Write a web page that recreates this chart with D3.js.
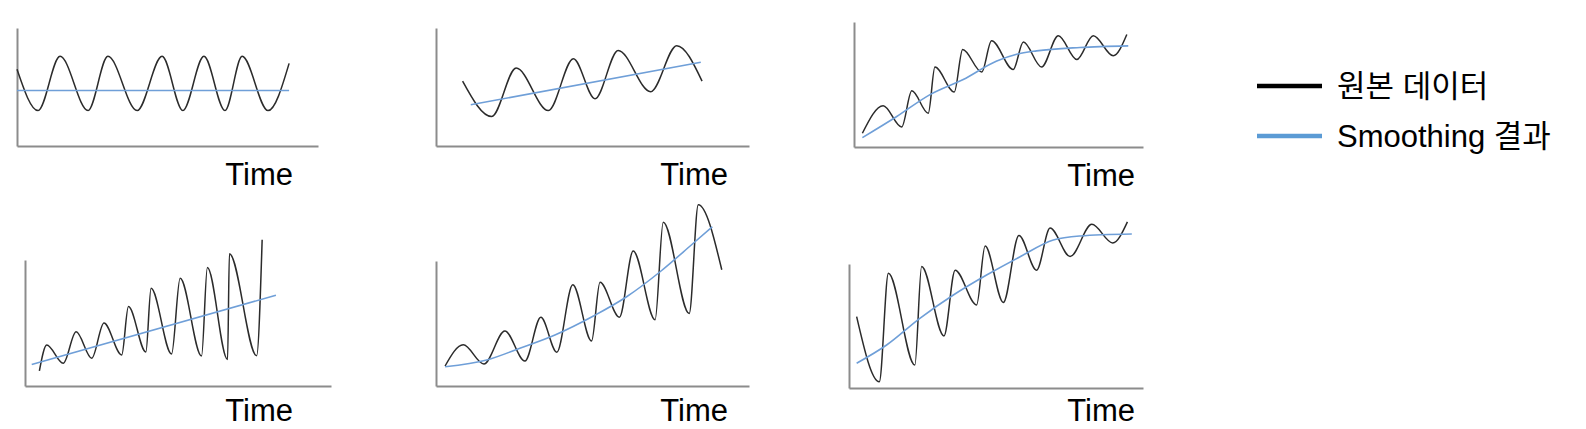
<!DOCTYPE html>
<html>
<head>
<meta charset="utf-8">
<script src="https://cdn.jsdelivr.net/npm/d3@7"></script>
<style>
  body { margin: 0; background: #fff; }
  svg { display: block; }
  text { font-family: "Liberation Sans", Arial, "Noto Sans CJK KR", sans-serif; }
</style>
</head>
<body>
<script>
// time runs 0..100 and value 0..100 inside each panel frame

const rawTime1 = [0, 7, 14.3, 23.6, 30.2, 39.9, 48.2, 55.1, 62.1, 69.1, 74.8, 83.4, 90.4];
const rawValue1 = [65, 30, 76, 30, 76, 30, 76, 30, 76, 30, 76, 30, 70];
const smoothTime1 = [0, 90.4];
const smoothValue1 = [47, 47];

const rawTime2 = [8.5, 17.8, 25.6, 35.9, 43.9, 50.8, 58.2, 68.6, 76.9, 85.0];
const rawValue2 = [55, 25, 66, 30, 74, 40, 81, 46, 85, 55];
const smoothTime2 = [11.1, 84.6];
const smoothValue2 = [35, 71];

const rawTime3 = [2.9, 10.1, 16.5, 20.0, 25.7, 28.0, 34.7, 37.6, 44.2, 47.6, 55.1, 58.6, 64.9, 70.7, 77.1, 82.8, 89.7, 94.4];
const rawValue3 = [11, 33, 16, 45, 27, 64, 44, 78, 60, 85, 62, 84, 64, 89, 70, 89, 73, 90];
const smoothTime3 = [2.9, 14.8, 26.3, 37.8, 49.4, 56.3, 63.2, 78.2, 94.9];
const smoothValue3 = [7.5, 24.4, 41.9, 54, 68.8, 74.2, 76.9, 79.6, 80.9];

const rawTime4 = [4.7, 7.1, 12.5, 16.7, 21.8, 25.8, 31.6, 33.8, 39.5, 41.2, 47.9, 50.7, 57.7, 59.6, 66.2, 66.8, 75.7, 77.5];
const rawValue4 = [12, 32.5, 18, 43, 22, 50, 24.6, 63, 27, 77.5, 25.4, 85.5, 23.8, 94, 21, 105, 24, 116];
const smoothTime4 = [2.2, 82];
const smoothValue4 = [17, 72];

const rawTime5 = [2.9, 8.7, 15.3, 22.0, 28.4, 33.5, 38.6, 43.7, 49.7, 52.4, 58.6, 63.0, 70.0, 72.6, 80.9, 83.8, 91.3];
const rawValue5 = [16, 33, 17.6, 44, 20, 55, 27, 81, 36, 83, 55, 108, 53, 131, 58, 145, 93];
const smoothTime5 = [2.9, 16.2, 26.8, 38, 50.3, 60.9, 71.6, 82.2, 88.3];
const smoothValue5 = [15.4, 20.8, 30.2, 40.8, 56, 71.4, 91.4, 114.2, 127.4];

const rawTime6 = [2.6, 10.3, 13.4, 22.4, 24.7, 32.3, 36.1, 43.4, 46.3, 52.5, 57.8, 63.8, 68.4, 75.2, 82.6, 89.7, 94.7];
const rawValue6 = [57.5, 5, 92.5, 18.5, 98, 42, 95, 67, 114.5, 69, 123, 95, 129, 106, 132, 117, 134];
const smoothTime6 = [2.6, 12.8, 24.1, 35.5, 46.8, 58.2, 69.5, 78.6, 96.2];
const smoothValue6 = [20, 34.7, 56.2, 75, 91.1, 105.9, 119.4, 122.6, 124.2];

const axisLabel = 'Time';
const legendLabels = ['원본 데이터', 'Smoothing 결과'];

const rawColor = '#2b2b2b';
const smoothColor = '#6f9fd8';
const legendColors = ['#000000', '#5b9bd5'];

const panels = [
  { left: 17, top: 28, right: 318, bottom: 146, labelX: 293, labelY: 185,
    raw: [rawTime1, rawValue1], smooth: [smoothTime1, smoothValue1] },
  { left: 436, top: 28, right: 749, bottom: 146, labelX: 728, labelY: 185,
    raw: [rawTime2, rawValue2], smooth: [smoothTime2, smoothValue2] },
  { left: 854, top: 22, right: 1143, bottom: 147, labelX: 1135, labelY: 186,
    raw: [rawTime3, rawValue3], smooth: [smoothTime3, smoothValue3] },
  { left: 25, top: 260, right: 331, bottom: 386, labelX: 293, labelY: 421,
    raw: [rawTime4, rawValue4], smooth: [smoothTime4, smoothValue4] },
  { left: 436, top: 261, right: 749, bottom: 386, labelX: 728, labelY: 421,
    raw: [rawTime5, rawValue5], smooth: [smoothTime5, smoothValue5] },
  { left: 849, top: 264, right: 1143, bottom: 388, labelX: 1135, labelY: 421,
    raw: [rawTime6, rawValue6], smooth: [smoothTime6, smoothValue6] }
];

const svg = d3.select('body').append('svg')
  .attr('width', 1586)
  .attr('height', 429);

const zip = (ts, vs) => ts.map((t, i) => [t, vs[i]]);

panels.forEach(p => {
  const x = d3.scaleLinear().domain([0, 100]).range([p.left, p.right]);
  const y = d3.scaleLinear().domain([0, 100]).range([p.bottom, p.top]);
  const g = svg.append('g');

  const xAxis = g.append('g')
    .attr('transform', `translate(0,${p.bottom})`)
    .call(d3.axisBottom(x).ticks(0).tickSizeOuter(0));
  const yAxis = g.append('g')
    .attr('transform', `translate(${p.left},0)`)
    .call(d3.axisLeft(y).ticks(0).tickSizeOuter(0));
  [xAxis, yAxis].forEach(a => a.select('.domain')
    .attr('stroke', '#8c8c8c')
    .attr('stroke-width', 2));

  const line = d3.line()
    .x(d => x(d[0]))
    .y(d => y(d[1]))
    .curve(d3.curveMonotoneX);

  g.append('path')
    .datum(zip(p.raw[0], p.raw[1]))
    .attr('fill', 'none')
    .attr('stroke', rawColor)
    .attr('stroke-width', 1.5)
    .attr('d', line);

  g.append('path')
    .datum(zip(p.smooth[0], p.smooth[1]))
    .attr('fill', 'none')
    .attr('stroke', smoothColor)
    .attr('stroke-width', 1.6)
    .attr('d', line);

  g.append('text')
    .attr('x', p.labelX)
    .attr('y', p.labelY)
    .attr('text-anchor', 'end')
    .attr('font-size', 31)
    .attr('fill', '#000')
    .text(axisLabel);
});

// legend
const legend = svg.append('g').attr('transform', 'translate(1257,86)');
const ly = d3.scalePoint().domain(legendLabels).range([0, 50]);
legendLabels.forEach((name, i) => {
  legend.append('line')
    .attr('x1', 0).attr('x2', 65)
    .attr('y1', ly(name)).attr('y2', ly(name))
    .attr('stroke', legendColors[i])
    .attr('stroke-width', 4.5);
  legend.append('text')
    .attr('x', 80)
    .attr('y', ly(name))
    .attr('dy', '0.35em')
    .attr('font-size', 31)
    .attr('fill', '#000')
    .text(name);
});
</script>
</body>
</html>
